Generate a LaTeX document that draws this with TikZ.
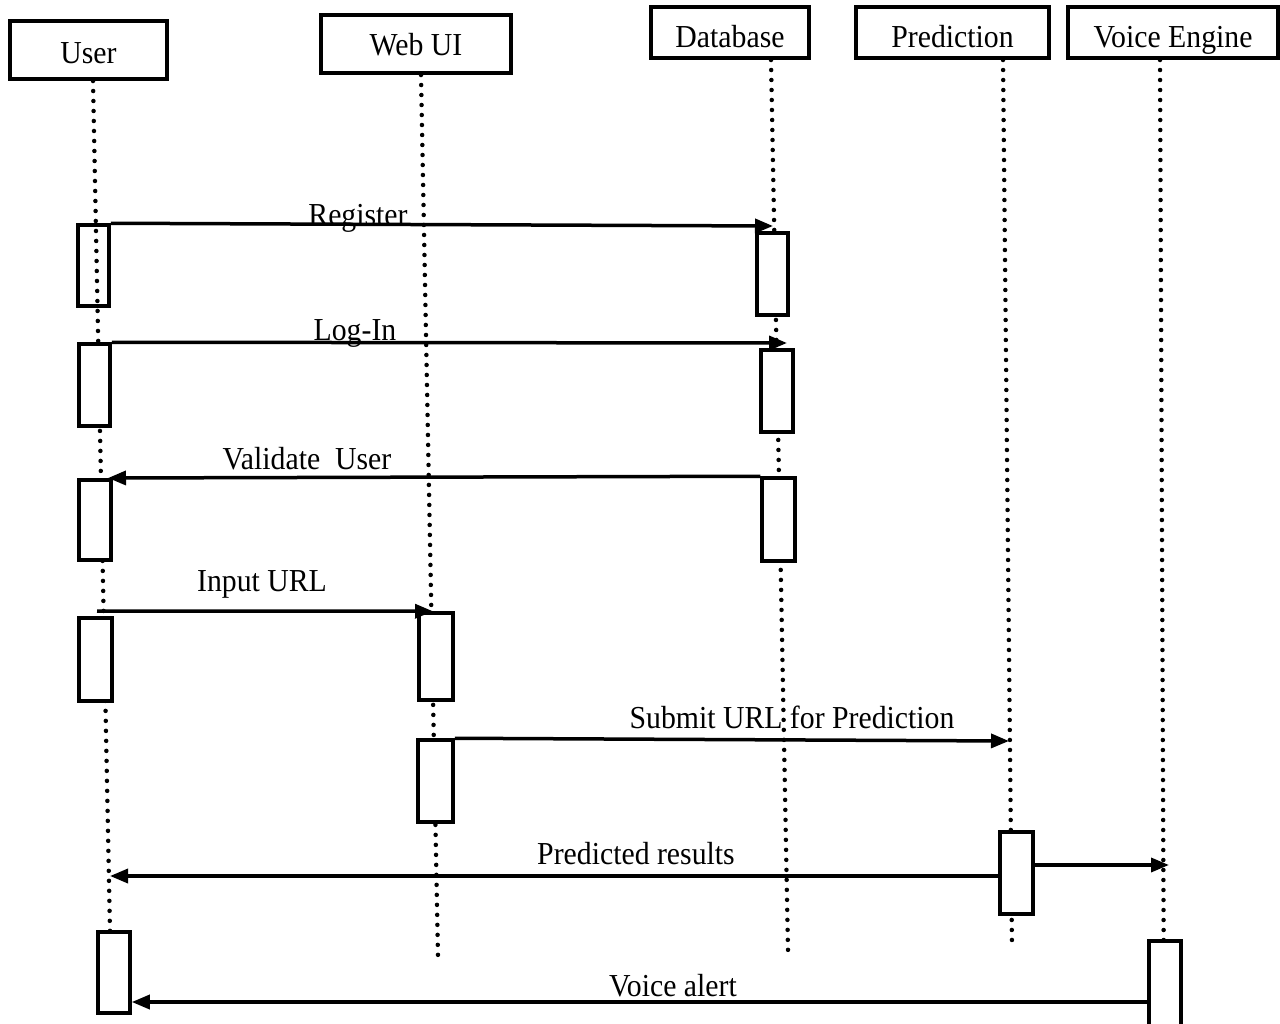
\documentclass[tikz,border=0pt]{standalone}
\usepackage{fontspec}
\setmainfont{Liberation Serif}[FakeStretch=0.93]
\usetikzlibrary{arrows.meta}
\begin{document}
\begin{tikzpicture}[x=1pt,y=-1pt,
  every node/.style={font=\fontsize{32}{36}\selectfont},
  head/.style={draw, line width=4pt, inner sep=0pt, text depth=0pt},
  act/.style={draw, line width=3.5pt, fill=white, inner sep=0pt},
  life/.style={line width=4.5pt, dash pattern=on 0pt off 10pt, line cap=round},
  msg/.style={line width=3.5pt, -{Triangle[length=18pt,width=14pt]}},
  lbl/.style={anchor=base, inner sep=0pt}]
\useasboundingbox (0,0) rectangle (1280,1023);
\fill[white] (0,0) rectangle (1280,1023);
\clip (0,0) rectangle (1280,1023);

% headers
\node[head, minimum width=157pt, minimum height=58pt, text height=26pt] (user) at (88.5,50) {User};
\node[head, minimum width=190pt, minimum height=58pt, text height=22pt] (web) at (416,44) {Web UI};
\node[head, minimum width=158pt, minimum height=51pt, text height=29pt] (db) at (730,32.5) {Database};
\node[head, minimum width=193pt, minimum height=51pt, text height=29pt] (pred) at (952.5,32.5) {Prediction};
\node[head, minimum width=210pt, minimum height=51pt, text height=29pt] (voice) at (1173,32.5) {Voice Engine};

% lifelines
\coordinate (uE) at (110,932);
\coordinate (wE) at (438,957);
\coordinate (dE) at (788,950);
\coordinate (pE) at (1012,948);
\coordinate (vE) at (1164,1023);
\draw[life] ([xshift=4.5pt]user.south) -- (uE);
\draw[life] ([xshift=5pt]web.south) -- (wE);
\draw[life] ([xshift=41pt]db.south) -- (dE);
\draw[life] ([xshift=50.5pt]pred.south) -- (pE);
\draw[life] ([xshift=-13pt]voice.south) -- (vE);

% activation boxes
\node[act, fill=none, minimum width=31pt, minimum height=81pt] (u1) at (93.5,265.5) {};
\node[act, minimum width=31pt, minimum height=82pt] (db1) at (772.5,274) {};
\node[act, minimum width=31pt, minimum height=82pt] (u2) at (94.5,385) {};
\node[act, minimum width=32pt, minimum height=82pt] (db2) at (777,391) {};
\node[act, minimum width=32pt, minimum height=80pt] (u3) at (95,520) {};
\node[act, minimum width=33pt, minimum height=83pt] (db3) at (778.5,519.5) {};
\node[act, minimum width=33pt, minimum height=83pt] (u4) at (95.5,659.5) {};
\node[act, minimum width=34pt, minimum height=87pt] (w1) at (436,656.5) {};
\node[act, minimum width=35pt, minimum height=82pt] (w2) at (435.5,781) {};
\node[act, minimum width=33pt, minimum height=82pt] (p1) at (1016.5,873) {};
\node[act, minimum width=32pt, minimum height=81pt] (u5) at (114,972.5) {};
\node[act, minimum width=32pt, minimum height=92pt] (v1) at (1165,987) {};

% messages
\coordinate (regT) at (773,226);
\draw[msg] (u1.north east) -- (regT);
\coordinate (logT) at (787,343);
\draw[msg] (u2.north east) -- (logT);
\coordinate (valT) at (108,478);
\draw[msg] (db3.north west) -- (valT);
\coordinate (inS) at (97,611);
\draw[msg] (inS) -- ([xshift=-3pt]w1.north);
\coordinate (subT) at (1009,741);
\draw[msg] (w2.north east) -- (subT);
\coordinate (prT) at (110,876);
\draw[msg] (p1.west |- prT) -- (prT);
\coordinate (pvT) at (1169,865);
\draw[msg] (p1.east |- pvT) -- (pvT);
\coordinate (vaY) at (600,1002);
\draw[msg] (v1.west |- vaY) -- (u5.east |- vaY);

% labels
\node[lbl] (lreg) at (358,225) {Register};
\node[lbl] (llog) at (355,340) {Log-In};
\node[lbl] (lval) at (307,469) {Validate\ \ User};
\node[lbl] (lin) at (262,591) {Input URL};
\node[lbl] (lsub) at (792,728) {Submit URL for Prediction};
\node[lbl] (lpr) at (636,864) {Predicted results};
\node[lbl] (lva) at (673,996) {Voice alert};
\end{tikzpicture}
\end{document}
